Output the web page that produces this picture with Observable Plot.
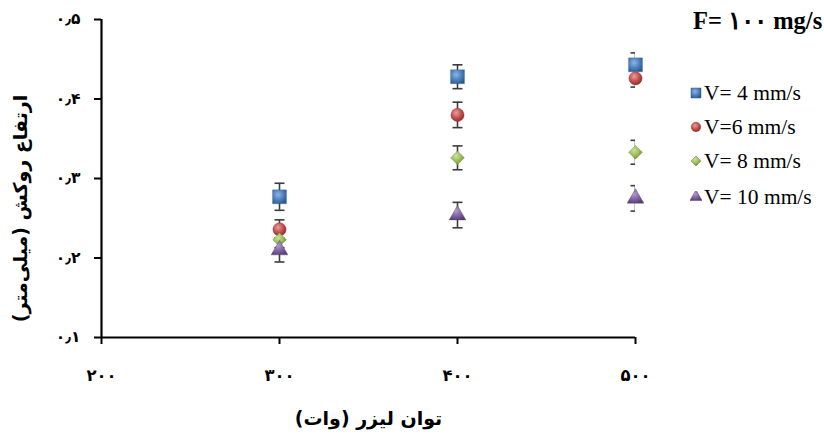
<!DOCTYPE html>
<html>
<head>
<meta charset="utf-8">
<script src="https://cdn.jsdelivr.net/npm/d3@7"></script>
<script src="https://cdn.jsdelivr.net/npm/@observablehq/plot@0.6"></script>
<style>
  body { margin: 0; background: #fff; }
  #wrap { position: relative; width: 824px; height: 435px; overflow: hidden; }
  #legend { position: absolute; left: 688px; top: 0; width: 136px; font-family: "Liberation Serif", "Times New Roman", serif; color: #000; }
  #legend .title { position: absolute; left: 5px; top: 6px; font-weight: bold; font-size: 24.5px; white-space: nowrap; }
  #legend .item { position: absolute; left: 2px; height: 22px; white-space: nowrap; font-size: 21.5px; line-height: 22px; }
  #legend .item svg { vertical-align: middle; margin-right: 2px; position: relative; top: -2px; }
</style>
</head>
<body>
<div id="wrap"><div id="legend"></div></div>
<script>
// Laser power (W) on the x axis
const power = [300, 400, 500];

// Clad height (mm) and its error for each scan speed, F = 100 mg/s
const seriesNames = ["V= 4 mm/s", "V=6 mm/s", "V= 8 mm/s", "V= 10 mm/s"];
const heightV4  = [0.277, 0.428, 0.443];
const errorV4   = [0.017, 0.015, 0.015];
const heightV6  = [0.236, 0.380, 0.426];
const errorV6   = [0.012, 0.016, 0.011];
const heightV8  = [0.223, 0.326, 0.333];
const errorV8   = [0.010, 0.015, 0.015];
const heightV10 = [0.210, 0.254, 0.275];
const errorV10  = [0.015, 0.016, 0.016];

// Axis ticks and their Persian labels
const xTicks = [200, 300, 400, 500];
const xTickLabels = ["۲۰۰", "۳۰۰", "۴۰۰", "۵۰۰"];
const yTicks = [0.1, 0.2, 0.3, 0.4, 0.5];
const yTickLabels = ["۰٫۱", "۰٫۲", "۰٫۳", "۰٫۴", "۰٫۵"];

const xTitle = "توان لیزر (وات)";
const yTitle = "ارتفاع روکش (میلی‌متر)";
const legendTitle = "F= ۱۰۰ mg/s";

const heights = [heightV4, heightV6, heightV8, heightV10];
const errors = [errorV4, errorV6, errorV8, errorV10];

// Marker look for each series
const markerStyle = [
  {symbol: "square",   r: 7.8, grad: "gSquare",   colors: ["#8fb4e3", "#4f81bd", "#2b5a92"]},
  {symbol: "circle",   r: 6.6, grad: "gCircle",   colors: ["#ef9c99", "#c0504d", "#8a2b28"]},
  {symbol: "diamond2", r: 6.2, grad: "gDiamond",  colors: ["#c9e29a", "#9bbb59", "#6a8a31"]},
  {symbol: "triangle", r: 6.2, grad: "gTriangle", colors: ["#b09ccd", "#8064a2", "#553d75"]}
];

const rows = seriesNames.flatMap((name, s) =>
  power.map((p, i) => ({series: name, s, power: p, h: heights[s][i], e: errors[s][i]}))
);

// Horizontal cap for the error bars
const capSymbol = {
  draw(ctx) { ctx.moveTo(-5, 0); ctx.lineTo(5, 0); }
};
const caps = rows.flatMap(d => [{power: d.power, y: d.h - d.e}, {power: d.power, y: d.h + d.e}]);

const xLabel = new Map(xTicks.map((t, i) => [t, xTickLabels[i]]));
const yLabel = new Map(yTicks.map((t, i) => [t, yTickLabels[i]]));

const chart = Plot.plot({
  width: 824,
  height: 435,
  marginLeft: 101,
  marginRight: 189,
  marginTop: 19,
  marginBottom: 98,
  style: {fontFamily: "DejaVu Sans", background: "white", color: "black"},
  x: {domain: [200, 500]},
  y: {domain: [0.1, 0.5]},
  marks: [
    Plot.axisY({ticks: yTicks, tickFormat: d => yLabel.get(d), tickSize: 7, tickPadding: 14,
      strokeWidth: 2, fontSize: 15.5, fontWeight: "bold", label: null}),
    Plot.axisX({ticks: xTicks, tickFormat: d => xLabel.get(d), tickSize: 7, tickPadding: 25,
      strokeWidth: 2, fontSize: 16.5, fontWeight: "bold", label: null}),
    Plot.ruleX([200], {stroke: "black", strokeWidth: 2.2}),
    Plot.ruleY([0.1], {stroke: "black", strokeWidth: 2.2}),
    Plot.ruleX(rows, {x: "power", y1: d => d.h - d.e, y2: d => d.h + d.e,
      stroke: "#3c3c3c", strokeWidth: 1.6, clip: "frame"}),
    Plot.dot(caps, {x: "power", y: "y", symbol: capSymbol, r: 5, fill: "none",
      stroke: "#3c3c3c", strokeWidth: 1.6, clip: "frame"}),
    ...markerStyle.map((m, s) =>
      Plot.dot(rows.filter(d => d.s === s), {x: "power", y: "h", symbol: m.symbol, r: m.r,
        fill: `url(#${m.grad})`, stroke: m.colors[2], strokeWidth: 0.4})
    ),
    Plot.text([xTitle], {frameAnchor: "bottom", dy: 81, lineAnchor: "middle", textAnchor: "middle",
      fontSize: 19, fontWeight: "bold"}),
    Plot.text([yTitle], {frameAnchor: "left", dx: -81, dy: 30, rotate: -90, lineAnchor: "middle",
      textAnchor: "middle", fontSize: 19, fontWeight: "bold"})
  ]
});

// Shaded fills for the markers
const defs = d3.select(chart).insert("defs", ":first-child");
markerStyle.forEach(m => {
  const g = defs.append("radialGradient").attr("id", m.grad)
    .attr("cx", "40%").attr("cy", "35%").attr("r", "70%");
  g.append("stop").attr("offset", "0%").attr("stop-color", m.colors[0]);
  g.append("stop").attr("offset", "55%").attr("stop-color", m.colors[1]);
  g.append("stop").attr("offset", "100%").attr("stop-color", m.colors[2]);
});

document.getElementById("wrap").prepend(chart);

// Legend
const legend = d3.select("#legend");
legend.append("div").attr("class", "title").text(legendTitle);
const itemTops = [82, 116, 150, 186];
const symbolTypes = [d3.symbolSquare, d3.symbolCircle, d3.symbolDiamond2, d3.symbolTriangle];
seriesNames.forEach((name, s) => {
  const item = legend.append("div").attr("class", "item").style("top", itemTops[s] + "px");
  const svg = item.append("svg").attr("width", 12).attr("height", 12);
  const m = markerStyle[s];
  svg.append("path")
    .attr("transform", "translate(6,6)")
    .attr("d", d3.symbol(symbolTypes[s], Math.PI * (m.r * 0.72) ** 2)())
    .attr("fill", `url(#${m.grad})`)
    .attr("stroke", m.colors[2]).attr("stroke-width", 0.5);
  item.append("span").text(name);
});
</script>
</body>
</html>
